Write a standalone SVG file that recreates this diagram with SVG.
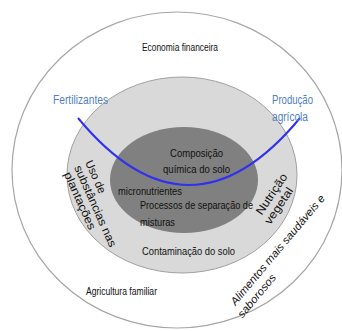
<svg xmlns="http://www.w3.org/2000/svg" width="342" height="331" viewBox="0 0 342 331">
<style>
text{font-family:'Liberation Sans',Arial,sans-serif;}
.t{fill:#111;}
.b{fill:#4f7fc4;font-size:12px;}
</style>
<rect width="342" height="331" fill="#fff"/>
<g id="outer">
<ellipse cx="177" cy="170" rx="165" ry="158" fill="#fff" stroke="#a6a6a6" stroke-width="1.2"/>
<text class="t" x="142" y="51" font-size="10.5" textLength="76" lengthAdjust="spacingAndGlyphs">Economia financeira</text>
<text class="t" x="86" y="294.5" font-size="10.5" textLength="71" lengthAdjust="spacingAndGlyphs">Agricultura familiar</text>
<text class="t" font-size="11" font-style="italic" transform="rotate(-50)" x="-83" y="377" textLength="140" lengthAdjust="spacingAndGlyphs">Alimentos mais saudáveis e</text>
<text class="t" font-size="11" font-style="italic" transform="rotate(-50)" x="-88" y="390.5" textLength="53" lengthAdjust="spacingAndGlyphs">saborosos</text>
</g>
<g id="middle">
<ellipse cx="182" cy="175" rx="115" ry="98" fill="#d9d9d9" stroke="#a0a0a0" stroke-width="1"/>
<text class="t" font-size="11.5" transform="rotate(66)" x="183" y="-11.5" textLength="35" lengthAdjust="spacingAndGlyphs">Uso de</text>
<text class="t" font-size="11.5" transform="rotate(66)" x="183" y="0.5" textLength="88" lengthAdjust="spacingAndGlyphs">substâncias nas</text>
<text class="t" font-size="11.5" transform="rotate(66)" x="185" y="12.5" textLength="62" lengthAdjust="spacingAndGlyphs">plantações</text>
<text class="t" font-size="11.5" transform="rotate(-56)" x="-32.5" y="337.5" textLength="47" lengthAdjust="spacingAndGlyphs">Nutrição</text>
<text class="t" font-size="11.5" transform="rotate(-56)" x="-35.7" y="350" textLength="42" lengthAdjust="spacingAndGlyphs">vegetal</text>
<text class="t" x="142" y="254.5" font-size="11" textLength="93" lengthAdjust="spacingAndGlyphs">Contaminação do solo</text>
</g>
<g id="inner">
<ellipse cx="184" cy="180" rx="74" ry="53" fill="#808080"/>
<text class="t" x="170" y="157" font-size="11" textLength="53" lengthAdjust="spacingAndGlyphs">Composição</text>
<text class="t" x="163" y="172.5" font-size="11" textLength="67" lengthAdjust="spacingAndGlyphs">química do solo</text>
<text class="t" x="118" y="195" font-size="11" textLength="64" lengthAdjust="spacingAndGlyphs">micronutrientes</text>
<text class="t" x="140" y="209" font-size="11" textLength="113" lengthAdjust="spacingAndGlyphs">Processos  de separação de</text>
<text class="t" x="140" y="226" font-size="11" textLength="35" lengthAdjust="spacingAndGlyphs">misturas</text>
</g>
<g id="connectors">
<path d="M78,118 Q189,252 300,118" fill="none" stroke="#3030f0" stroke-width="2"/>
</g>
<g id="labels">
<text class="b" x="53" y="104" textLength="55" lengthAdjust="spacingAndGlyphs">Fertilizantes</text>
<text class="b" x="272" y="104" textLength="41" lengthAdjust="spacingAndGlyphs">Produção</text>
<text class="b" x="272" y="121" textLength="36" lengthAdjust="spacingAndGlyphs">agrícola</text>
</g>
</svg>
